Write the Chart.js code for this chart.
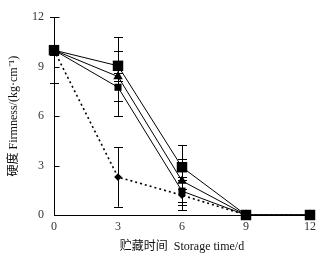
<!DOCTYPE html>
<html><head><meta charset="utf-8">
<script src="https://cdn.jsdelivr.net/npm/chart.js@4.4.1/dist/chart.umd.min.js"></script>
<style>html,body{margin:0;padding:0;background:#fff}#wrap{width:322px;height:262px}</style>
</head><body><div id="wrap"><canvas id="c" width="322" height="262"></canvas></div>
<script>
const days = [0, 3, 6, 9, 12];
const seriesA = [10.0, 9.05, 2.9, 0, 0];
const seriesB = [10.0, 8.4, 2.07, 0, 0];
const seriesC = [10.0, 7.75, 1.45, 0, 0];
const seriesD = [10.0, 2.3, 1.2, 0, 0];
const errA = [0.3, 0.9, 1.35, 0, 0];
const errB = [0.3, 2.4, 1.3, 0, 0];
const errC = [2.0, 0.85, 0.85, 0, 0];
const errD = [0.3, 1.8, 0.9, 0, 0];
const yTicks = [0, 3, 6, 9, 12];
const xTitle = '贮藏时间  Storage time/d';
const yTitle = '硬度 Firmness/(kg·cm⁻¹)';

const FONT = '"Liberation Serif", "Noto Sans CJK SC", serif';
const mk = (arr) => days.map((d, i) => ({x: d, y: arr[i]}));

const errPlugin = {
  id: 'err',
  afterDatasetsDraw(chart) {
    const ctx = chart.ctx, xs = chart.scales.x, ys = chart.scales.y;
    ctx.save();
    ctx.strokeStyle = '#000'; ctx.lineWidth = 1;
    chart.data.datasets.forEach(ds => {
      ds.data.forEach((p, i) => {
        const e = ds.err[i];
        if (!e) return;
        const x = Math.round(xs.getPixelForValue(p.x)) + 0.5;
        const y1 = ys.getPixelForValue(p.y + e), y2 = ys.getPixelForValue(Math.max(0, p.y - e));
        ctx.beginPath();
        ctx.moveTo(x, y1); ctx.lineTo(x, y2);
        ctx.moveTo(x - 4.5, Math.round(y1) + 0.5); ctx.lineTo(x + 4.5, Math.round(y1) + 0.5);
        ctx.moveTo(x - 4.5, Math.round(y2) + 0.5); ctx.lineTo(x + 4.5, Math.round(y2) + 0.5);
        ctx.stroke();
      });
    });
    const xa = Math.round(xs.getPixelForValue(0)) + 0.5;
    yTicks.forEach(t => {
      const y = Math.round(ys.getPixelForValue(t)) + 0.5;
      ctx.beginPath(); ctx.moveTo(xa, y); ctx.lineTo(xa + 5, y); ctx.stroke();
    });
    ctx.restore();
  }
};

const common = {borderColor: '#000', pointBackgroundColor: '#000', pointBorderColor: '#000', pointBorderWidth: 0, clip: false};

new Chart(document.getElementById('c'), {
  type: 'line',
  data: {
    datasets: [
      Object.assign({data: mk(seriesA), err: errA, borderWidth: 1, pointStyle: 'rect', pointRadius: 7.4}, common),
      Object.assign({data: mk(seriesB), err: errB, borderWidth: 1, pointStyle: 'triangle', pointRadius: 5.5}, common),
      Object.assign({data: mk(seriesC), err: errC, borderWidth: 1, pointStyle: 'rect', pointRadius: 5}, common),
      Object.assign({data: mk(seriesD), err: errD, borderWidth: 1.6, borderDash: [2, 3], pointStyle: 'rectRot', pointRadius: 3.8}, common)
    ]
  },
  options: {
    responsive: false, animation: false,
    layout: {padding: {left: 0, right: 12, top: 12, bottom: 0}},
    plugins: {legend: {display: false}, tooltip: {enabled: false}},
    scales: {
      x: {
        type: 'linear', min: 0, max: 12,
        afterBuildTicks: s => { s.ticks = days.map(v => ({value: v})); },
        afterFit: s => { s.height = 47; },
        grid: {display: false, drawTicks: false},
        border: {color: '#000', width: 1},
        ticks: {color: '#333', font: {family: FONT, size: 12}, padding: 5, maxRotation: 0},
        title: {display: true, text: xTitle, color: '#111', font: {family: FONT, size: 12}, padding: {top: 4, bottom: 8}}
      },
      y: {
        min: 0, max: 12,
        afterBuildTicks: s => { s.ticks = yTicks.map(v => ({value: v})); },
        afterFit: s => { s.width = 54; },
        grid: {display: false, drawTicks: false},
        border: {color: '#000', width: 1},
        ticks: {color: '#333', font: {family: FONT, size: 12}, padding: 10},
        title: {display: true, text: yTitle, color: '#111', font: {family: FONT, size: 12}, padding: {top: 7, bottom: 0}}
      }
    }
  },
  plugins: [errPlugin]
});
</script></body></html>
